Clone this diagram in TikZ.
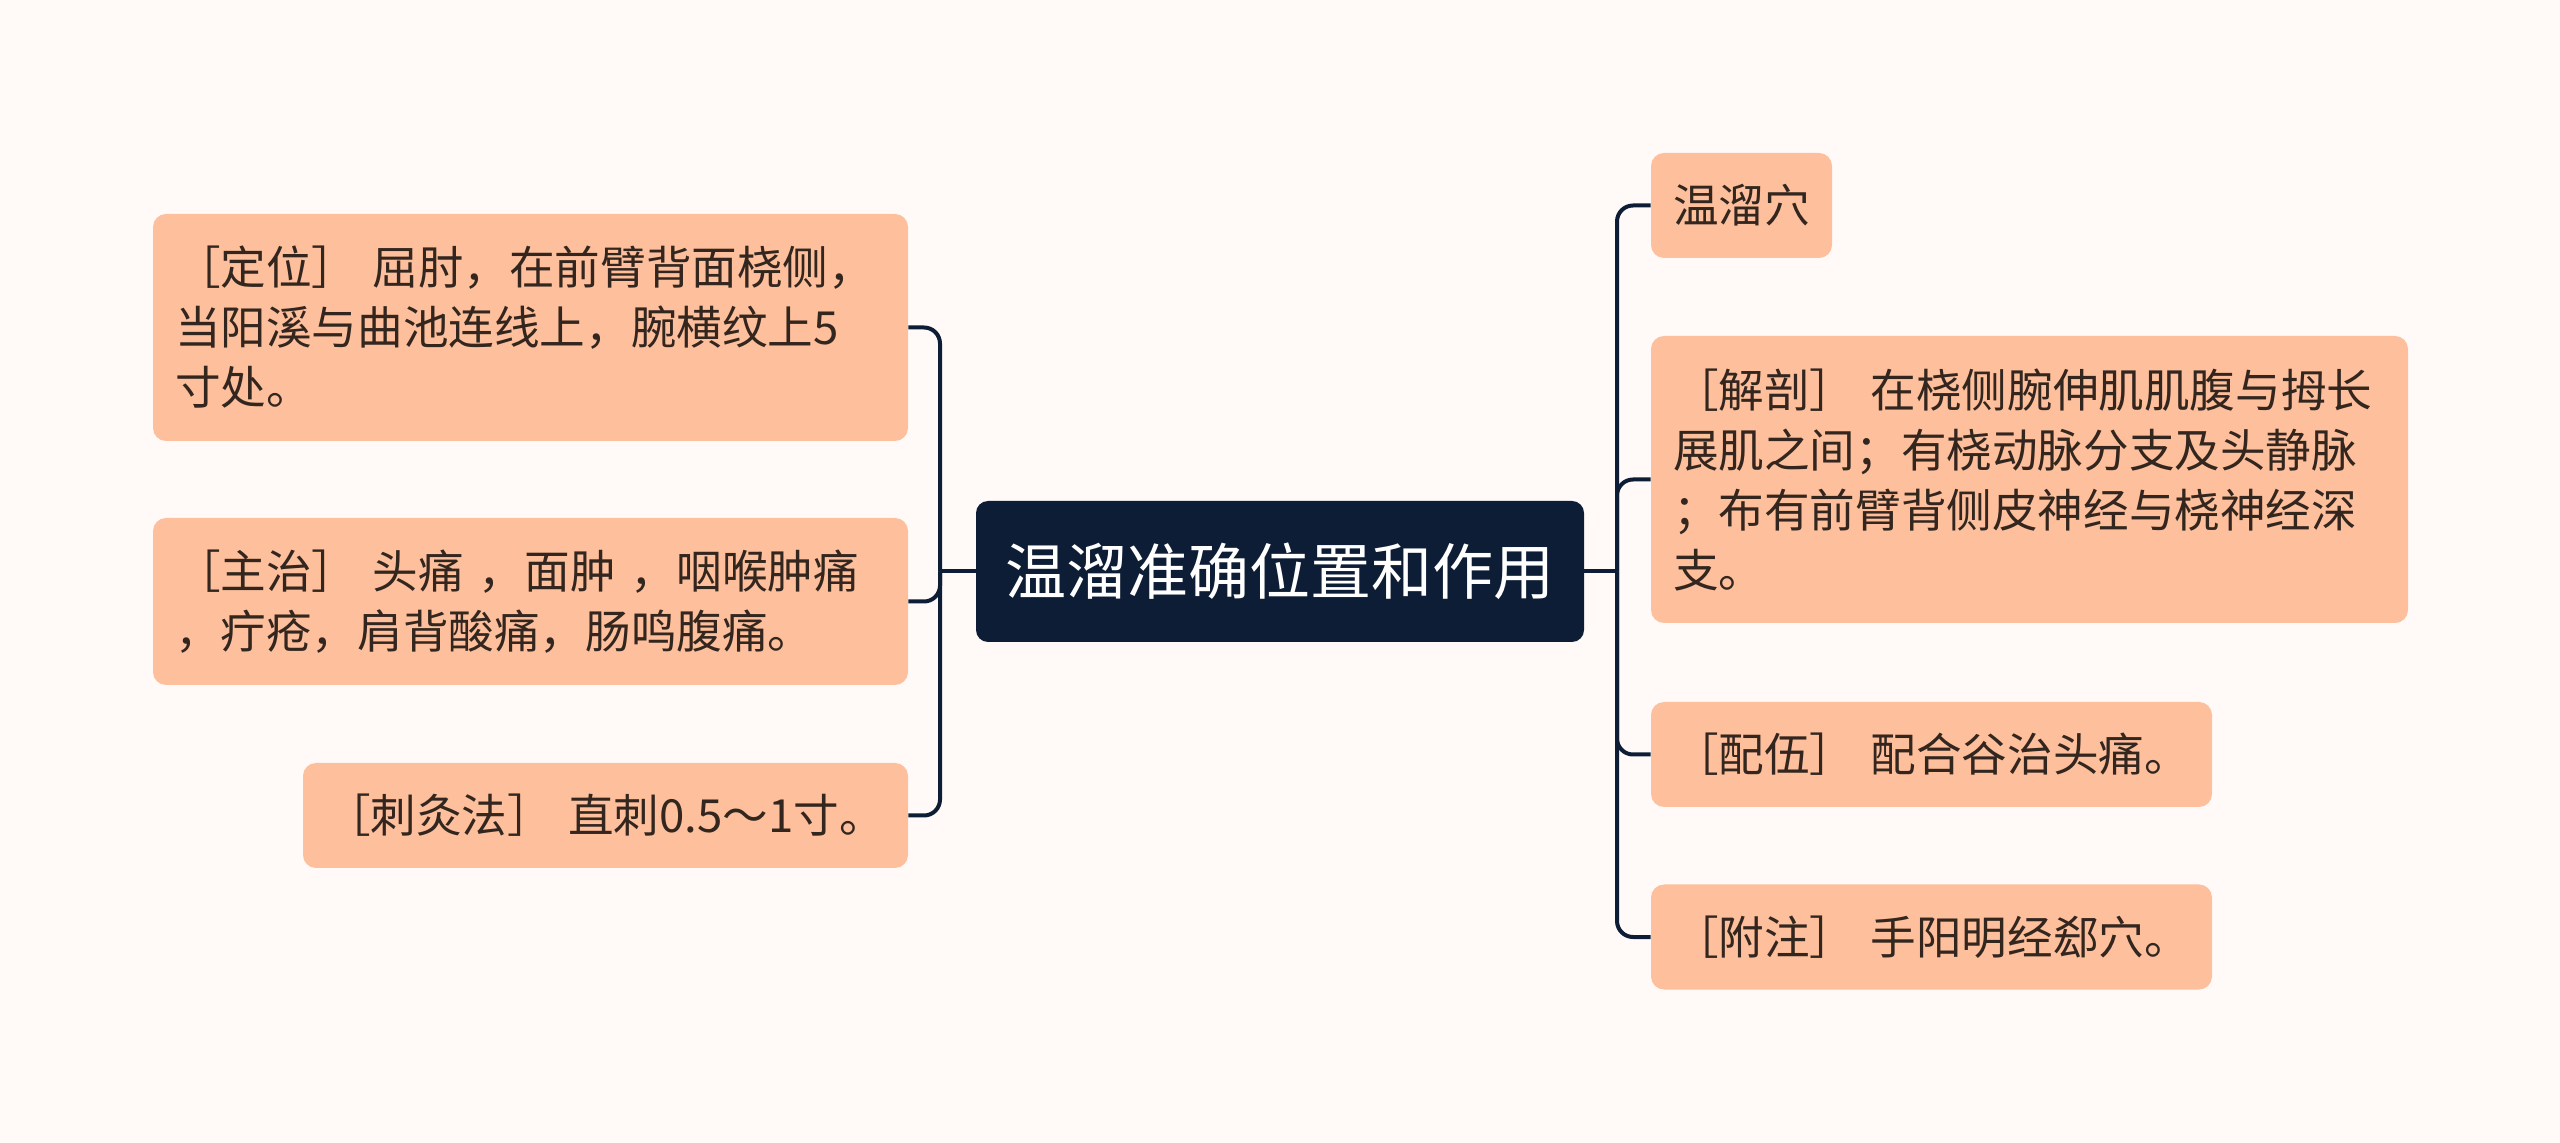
\documentclass[tikz,border=0pt]{standalone}
\usepackage{fontspec}
\newfontfamily\cjk{Noto Sans CJK SC}
\definecolor{bg}{HTML}{FFFAF8}
\definecolor{navy}{HTML}{0E1D36}
\definecolor{peach}{HTML}{FDBF9C}
\definecolor{txt}{HTML}{33261F}
\begin{document}
\begin{tikzpicture}[x=0.5pt,y=-0.5pt,
  leaf/.style={fill=peach, rounded corners=6.5pt, inner xsep=11pt, inner ysep=0pt,
    align=left, text=txt, font=\cjk\fontsize{22.8pt}{30pt}\selectfont},
  root/.style={fill=navy, rounded corners=6pt, text=white, inner sep=0pt,
    font=\cjk\fontsize{30.5pt}{36pt}\selectfont},
  conn/.style={draw=navy, line width=2pt, rounded corners=8pt}]
\fill[bg] (0,0) rectangle (2560,1143);
\useasboundingbox (0,0) rectangle (2560,1143);

\node[root, minimum width=304pt, minimum height=70.5pt] (C) at (1280,571.5) {温溜准确位置和作用};

\node[leaf, minimum width=377.5pt, minimum height=113.5pt, text width=355.5pt] (L1) at (530.5,327.5)
  {［定位］ 屈肘，在前臂背面桡侧，\\当阳溪与曲池连线上，腕横纹上5\\寸处。};
\node[leaf, minimum width=377.5pt, minimum height=83.5pt, text width=355.5pt] (L2) at (530.5,601.5)
  {［主治］ 头痛 ，面肿 ，咽喉肿痛\\，疔疮，肩背酸痛，肠鸣腹痛。};
\node[leaf, minimum width=302.5pt, minimum height=52.5pt, text width=280.5pt] (L3) at (605.5,815.5)
  {［刺灸法］ 直刺0.5～1寸。};

\node[leaf, minimum width=90.5pt, minimum height=52.5pt, text width=68.5pt] (R1) at (1741.5,205.5)
  {温溜穴};
\node[leaf, minimum width=378.5pt, minimum height=143.5pt, text width=356.5pt] (R2) at (2029.5,479.5)
  {［解剖］ 在桡侧腕伸肌肌腹与拇长\\展肌之间；有桡动脉分支及头静脉\\；布有前臂背侧皮神经与桡神经深\\支。};
\node[leaf, minimum width=280.5pt, minimum height=52.5pt, text width=258.5pt] (R3) at (1931.5,754.5)
  {［配伍］ 配合谷治头痛。};
\node[leaf, minimum width=280.5pt, minimum height=52.5pt, text width=258.5pt] (R4) at (1931.5,937)
  {［附注］ 手阳明经郄穴。};

\coordinate (lsp) at (940,571.5);
\coordinate (rsp) at (1617,571.5);
\draw[conn] (C.west) -- (lsp);
\draw[conn] (L1.east) -| (lsp);
\draw[conn] (L2.east) -| (lsp);
\draw[conn] (L3.east) -| (lsp);
\draw[conn] (C.east) -- (rsp);
\draw[conn] (rsp) |- (R1.west);
\draw[conn] (rsp) |- (R2.west);
\draw[conn] (rsp) |- (R3.west);
\draw[conn] (rsp) |- (R4.west);
\end{tikzpicture}
\end{document}
